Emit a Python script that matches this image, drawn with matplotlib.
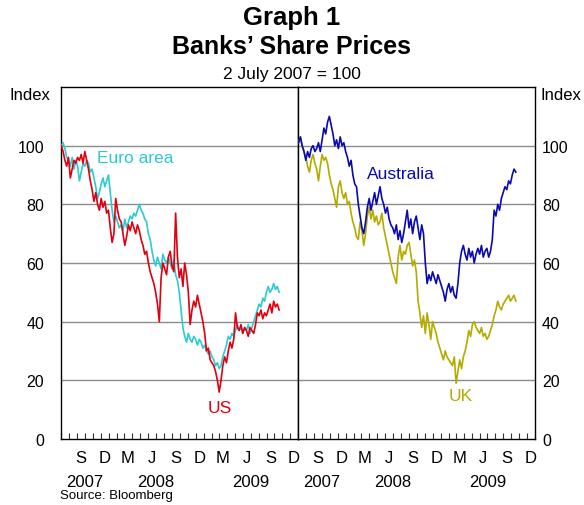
import matplotlib
matplotlib.use('Agg')
import matplotlib.pyplot as plt
import matplotlib.dates as mdates
import matplotlib.transforms as mtransforms
import pandas as pd

plt.rcParams['font.family'] = ['Liberation Sans', 'DejaVu Sans']

# weekly observations, 2 July 2007 = 100
dates = pd.date_range('2007-07-02', periods=121, freq='7D')

euro_area = [100, 101, 99, 96, 95, 93, 96, 92, 95, 93,
             88, 91, 94, 93, 95, 94, 91, 92, 89, 86,
             82, 84, 87, 89, 86, 88, 90, 84, 78, 74,
             76, 74, 72, 73, 71, 75, 72, 74, 76, 75,
             77, 76, 78, 80, 78, 77, 75, 74, 70, 68,
             64, 61, 59, 62, 60, 58, 63, 61, 60, 62,
             60, 58, 61, 56, 54, 50, 44, 38, 35, 33,
             36, 34, 33, 35, 34, 32, 34, 33, 31, 32,
             30, 29, 30, 28, 27, 25, 26, 24, 25, 28,
             30, 32, 35, 34, 36, 35, 37, 39, 37, 38,
             36, 38, 37, 39, 36, 38, 40, 42, 44, 46,
             45, 48, 47, 50, 52, 50, 51, 53, 51, 52,
             50]

us = [100, 98, 95, 93, 96, 89, 92, 95, 94, 96,
      95, 97, 94, 98, 95, 92, 88, 85, 81, 84,
      80, 78, 82, 79, 81, 77, 78, 72, 67, 70,
      82, 78, 75, 74, 70, 66, 69, 73, 71, 74,
      72, 70, 73, 71, 68, 66, 63, 64, 60, 57,
      55, 53, 50, 46, 40, 55, 60, 58, 56, 62,
      64, 59, 57, 77, 62, 55, 58, 52, 60, 56,
      50, 39, 44, 47, 45, 49, 46, 43, 40, 36,
      30, 31, 27, 26, 25, 23, 20, 16, 20, 25,
      28, 26, 30, 33, 31, 34, 43, 38, 37, 39,
      36, 38, 37, 35, 38, 37, 36, 39, 43, 42,
      44, 41, 43, 42, 44, 46, 43, 47, 45, 46,
      44]

australia = [101, 103, 100, 98, 95, 98, 96, 99, 100, 98,
             99, 101, 98, 102, 106, 104, 108, 110, 107, 104,
             100, 102, 99, 103, 100, 101, 98, 96, 93, 95,
             90, 87, 86, 80, 76, 72, 70, 74, 79, 82,
             78, 81, 84, 80, 83, 86, 82, 80, 77, 79,
             75, 73, 72, 70, 73, 68, 71, 67, 70, 74,
             78, 72, 75, 70, 74, 76, 72, 68, 73, 70,
             60, 53, 56, 54, 57, 55, 53, 56, 54, 52,
             50, 47, 51, 53, 50, 52, 49, 48, 53, 60,
             64, 66, 63, 61, 65, 62, 64, 60, 63, 65,
             63, 66, 62, 64, 65, 62, 64, 68, 78, 76,
             80, 78, 82, 84, 86, 85, 88, 87, 90, 92,
             91]

uk = [101, 103, 100, 98, 96, 93, 91, 95, 97, 94,
      92, 88, 93, 97, 95, 96, 94, 90, 87, 85,
      82, 79, 86, 88, 84, 82, 84, 80, 81, 77,
      74, 72, 69, 68, 74, 71, 66, 70, 76, 79,
      75, 78, 74, 76, 73, 74, 77, 72, 69, 66,
      63, 60, 57, 55, 53, 62, 66, 61, 64, 63,
      66, 67, 63, 59, 61, 57, 47, 43, 38, 42,
      36, 43, 39, 34, 40, 38, 36, 33, 31, 29,
      27, 30, 28, 27, 26, 25, 28, 19, 23, 27,
      24, 28, 30, 33, 37, 35, 39, 40, 38, 37,
      36, 38, 35, 36, 34, 35, 37, 39, 42, 44,
      47, 45, 44, 46, 47, 48, 49, 47, 48, 49,
      47]

# quarter-month labels sit mid-month
month_ticks = pd.date_range('2007-09-01', periods=10, freq='3MS') + pd.Timedelta(days=14)
month_labels = ['S', 'D', 'M', 'J', 'S', 'D', 'M', 'J', 'S', 'D']
year_pos = pd.to_datetime(['2007-10-01', '2008-07-01', '2009-07-01'])
year_labels = ['2007', '2008', '2009']

c_euro = '#2ccbd2'
c_us = '#e0000f'
c_aus = '#0a0ab0'
c_uk = '#b4ab00'

fig = plt.figure(figsize=(5.84, 5.06), dpi=100)
ax_l = fig.add_axes([61 / 584, 1 - 440 / 506, 237.3 / 584, 352 / 506])
ax_r = fig.add_axes([298.3 / 584, 1 - 440 / 506, 236.7 / 584, 352 / 506])


def style_panel(ax):
    ax.set_xlim(pd.Timestamp('2007-07-01'), pd.Timestamp('2010-01-01'))
    ax.set_ylim(0, 120)
    ax.set_yticks([0, 20, 40, 60, 80, 100])
    for v in [20, 40, 60, 80, 100]:
        ax.axhline(v, color='#8c8c8c', lw=1.0, zorder=1)
    ax.set_xticks(month_ticks)
    ax.set_xticklabels(month_labels)
    ax.xaxis.set_minor_locator(mdates.MonthLocator())
    ax.tick_params(axis='x', which='major', length=0, pad=8, labelsize=12)
    ax.tick_params(axis='x', which='minor', direction='in', length=4,
                   width=0.8, color='#333333')
    ax.tick_params(axis='y', length=0, labelsize=11.5)
    for s in ax.spines.values():
        s.set_linewidth(1.0)
        s.set_color('black')
    trans = mtransforms.blended_transform_factory(ax.transData, ax.transAxes)
    for pos, lab in zip(year_pos, year_labels):
        ax.text(pos, -0.122, lab, transform=trans, ha='center', va='center',
                fontsize=12)


style_panel(ax_l)
ax_l.plot(dates, euro_area, color=c_euro, lw=1.2, zorder=3)
ax_l.plot(dates, us, color=c_us, lw=1.2, zorder=4)
ax_l.tick_params(axis='y', pad=12)
ax_l.text(pd.Timestamp('2007-11-17'), 96, 'Euro area', color=c_euro,
          fontsize=12.5, ha='left', va='center')
ax_l.text(pd.Timestamp('2009-03-04'), 10.6, 'US', color=c_us,
          fontsize=12.5, ha='center', va='center')

style_panel(ax_r)
ax_r.plot(dates, uk, color=c_uk, lw=1.2, zorder=3)
ax_r.plot(dates, australia, color=c_aus, lw=1.2, zorder=4)
ax_r.yaxis.tick_right()
ax_r.tick_params(axis='y', pad=5)
ax_r.text(pd.Timestamp('2008-03-22'), 90.4, 'Australia', color=c_aus,
          fontsize=12.5, ha='left', va='center')
ax_r.text(pd.Timestamp('2009-03-19'), 14.7, 'UK', color=c_uk,
          fontsize=12.5, ha='center', va='center')

fig.text(0.5, 1 - 18 / 506, 'Graph 1', ha='center', va='center',
         fontsize=18.5, fontweight='bold')
fig.text(0.5, 1 - 47 / 506, 'Banks\u2019 Share Prices', ha='center',
         va='center', fontsize=18, fontweight='bold')
fig.text(0.5, 1 - 74 / 506, '2 July 2007 = 100', ha='center', va='center',
         fontsize=12.5)
fig.text(50 / 584, 1 - 96 / 506, 'Index', ha='right', va='center', fontsize=12)
fig.text(540 / 584, 1 - 96 / 506, 'Index', ha='left', va='center', fontsize=12)
fig.text(60 / 584, 1 - 496 / 506, 'Source: Bloomberg', ha='left',
         va='center', fontsize=9.5)

fig.savefig('out.png', dpi=100)
